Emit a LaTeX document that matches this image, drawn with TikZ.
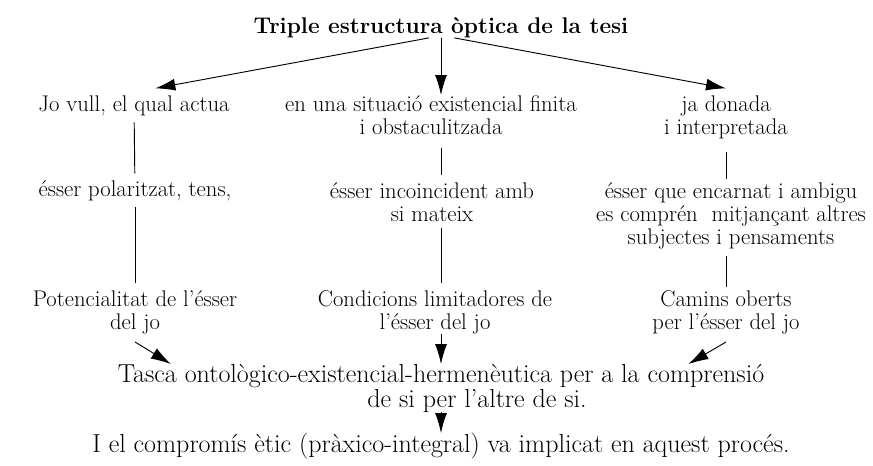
\documentclass[tikz,border=0pt]{standalone}
\usepackage{fontspec}
\usetikzlibrary{arrows.meta}
\tikzset{
  >={Latex[length=15pt,width=9pt]},
}
\tikzstyle{every node}=[font=\fontsize{17}{17.25}\selectfont,inner sep=0pt,align=center,anchor=north]
\tikzstyle{heading}=[font=\fontsize{17}{20}\selectfont\bfseries]
\tikzstyle{big}=[font=\fontsize{19.5}{18.5}\selectfont]
\tikzstyle{link}=[line width=0.7pt,shorten <=5pt,shorten >=5pt]
\tikzstyle{arrow}=[line width=0.7pt,->]

\begin{document}
\begin{tikzpicture}[x=0.75pt,y=-0.75pt]
  \useasboundingbox (0,0) rectangle (873,465);
  \node[heading] (title) at (441,17) {Triple estructura òptica de la tesi};
  % three columns
  \node (jo) at (134,95) {Jo vull, el qual actua};
  \node (sit) at (431,95) {en una situació existencial finita\\i obstaculitzada};
  \node (don) at (726,95) {ja donada\\i interpretada};
  \node (pol) at (135,180) {ésser polaritzat, tens,};
  \node (inc) at (432,182) {ésser incoincident amb\\si mateix};
  \node (enc) at (731,182) {ésser que encarnat i ambigu\\es comprén~ mitjançant altres\\subjectes i pensaments};
  \node (pot) at (135,290) {Potencialitat de l’ésser\\del jo};
  \node (lim) at (435,290) {Condicions limitadores de\\l’ésser del jo};
  \node (cam) at (726,290) {Camins oberts\\per l’ésser del jo};
  % task and commitment
  \node[big] (tasca) at (441,364) {Tasca ontològico-existencial-hermenèutica per a la comprensió\\\hspace*{54pt}de si per l’altre de si.};
  \node[big] (comp) at (441,433) {I el compromís ètic (pràxico-integral) va implicat en aquest procés.};

  \draw[arrow] ([xshift=-9pt]title.south) -- ([xshift=16pt,yshift=5pt]jo.north);
  \draw[arrow] (title.south) -- (sit.north -| title.south);
  \draw[arrow] ([xshift=10pt]title.south) -- ([yshift=5pt]don.north);

  \draw[link] (jo) -- (pol);
  \draw[link] (pol) -- (pot);
  \draw[link,shorten <=10pt] (sit.south -| title.south) -- (inc.north -| title.south);
  \draw[link] (inc.south -| title.south) -- (lim.north -| title.south);
  \draw[link,shorten <=10pt,shorten >=2pt] (don.south) -- (don.south |- enc.north);
  \draw[link,shorten >=2pt] (enc.south -| cam.north) -- (cam.north);

  \draw[arrow] ([yshift=-6pt]pot.south) -- ([xshift=40pt]tasca.north west);
  \draw[arrow] (lim.south -| title.south) -- (tasca.north -| title.south);
  \draw[arrow] ([yshift=-6pt]cam.south) -- ([xshift=-57pt]tasca.north east);
  \draw[arrow] (tasca.south -| title.south) -- (comp.north -| title.south);
\end{tikzpicture}
\end{document}
